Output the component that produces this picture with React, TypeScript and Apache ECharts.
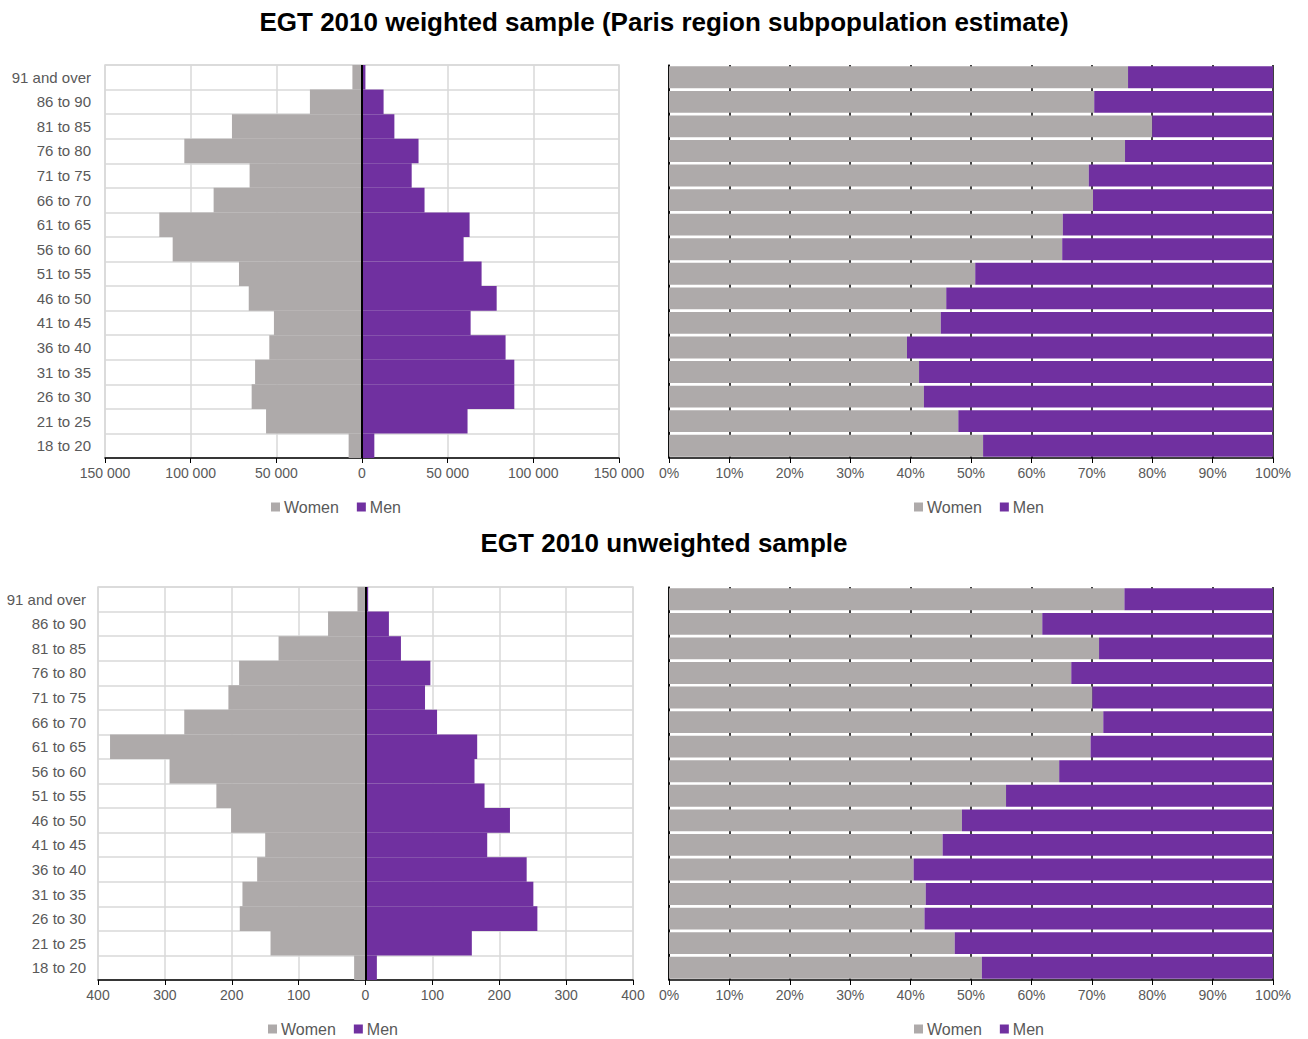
import React, { useEffect, useRef } from "react";
import * as echarts from "echarts";

const ageGroups = [
  "18 to 20", "21 to 25", "26 to 30", "31 to 35", "36 to 40", "41 to 45",
  "46 to 50", "51 to 55", "56 to 60", "61 to 65", "66 to 70", "71 to 75",
  "76 to 80", "81 to 85", "86 to 90", "91 and over",
];

// Weighted sample (estimated population)
const weightedWomen = [7800, 56000, 64400, 62400, 54100, 51400, 66100, 71800, 110500, 118300, 86600, 65600, 103700, 75900, 30400, 5600];
const weightedMen = [7200, 61600, 88900, 88900, 83800, 63400, 78600, 69800, 59300, 62800, 36500, 29000, 33000, 18900, 12600, 2000];
const weightedWomenShare = [52.0, 47.9, 42.2, 41.4, 39.4, 45.0, 45.9, 50.7, 65.1, 65.2, 70.2, 69.5, 75.5, 80.0, 70.4, 76.0];
const weightedMenShare = [48.0, 52.1, 57.8, 58.6, 60.6, 55.0, 54.1, 49.3, 34.9, 34.8, 29.8, 30.5, 24.5, 20.0, 29.6, 24.0];

// Unweighted sample (respondents)
const sampleWomen = [17, 142, 188, 184, 162, 150, 201, 223, 293, 382, 271, 205, 189, 130, 56, 12];
const sampleMen = [17, 159, 257, 251, 241, 182, 216, 178, 163, 167, 107, 89, 97, 53, 35, 4];
const sampleWomenShare = [51.8, 47.3, 42.3, 42.5, 40.5, 45.3, 48.5, 55.8, 64.6, 69.8, 71.9, 70.1, 66.6, 71.2, 61.8, 75.4];
const sampleMenShare = [48.2, 52.7, 57.7, 57.5, 59.5, 54.7, 51.5, 44.2, 35.4, 30.2, 28.1, 29.9, 33.4, 28.8, 38.2, 24.6];

const seriesNames = ["Women", "Men"];
const titles = ["EGT 2010 weighted sample (Paris region subpopulation estimate)", "EGT 2010 unweighted sample"];

const GREY = "#AEAAAA";
const PURPLE = "#7030A0";
const LABEL = "#595959";
const GRIDLINE = "#D9D9D9";
const FONT = "Liberation Sans, Arial, sans-serif";

const fmtAbs = (v: number) => String(Math.abs(v)).replace(/\B(?=(\d{3})+(?!\d))/g, " ");

function pyramidX(gridIndex: number, max: number, interval: number) {
  return {
    type: "value", gridIndex, min: -max, max, interval,
    axisLine: { show: true, onZero: false, lineStyle: { color: "#000", width: 1.5 } },
    axisTick: { show: true, length: 5, lineStyle: { color: "#000" } },
    axisLabel: { color: LABEL, fontSize: 14, fontFamily: FONT, margin: 8, formatter: fmtAbs },
    splitLine: { show: true, lineStyle: { color: GRIDLINE, width: 1.5 } },
  };
}
function pyramidY(gridIndex: number, margin: number) {
  return {
    type: "category", gridIndex, data: ageGroups,
    axisLine: { show: false }, axisTick: { show: false },
    axisLabel: { color: LABEL, fontSize: 15, fontFamily: FONT, margin, interval: 0 },
    splitLine: { show: true, interval: 0, lineStyle: { color: GRIDLINE, width: 1.5 } },
  };
}
function shareX(gridIndex: number) {
  return {
    type: "value", gridIndex, min: 0, max: 100, interval: 10,
    axisLine: { show: true, onZero: false, lineStyle: { color: "#000", width: 1.5 } },
    axisTick: { show: true, length: 5, lineStyle: { color: "#000" } },
    axisLabel: { color: LABEL, fontSize: 14, fontFamily: FONT, margin: 8, formatter: "{value}%" },
    splitLine: { show: true, lineStyle: { color: "#000", width: 1.5 } },
  };
}
function shareY(gridIndex: number) {
  return {
    type: "category", gridIndex, data: ageGroups,
    axisLine: { show: true, lineStyle: { color: "#000", width: 1.5 } },
    axisTick: { show: false }, axisLabel: { show: false }, splitLine: { show: false },
  };
}
function pyramidSeries(idx: number, women: number[], men: number[]) {
  return [
    {
      type: "bar", name: seriesNames[0], xAxisIndex: idx, yAxisIndex: idx, stack: "p" + idx,
      data: women.map((v) => -v), barCategoryGap: "0%", itemStyle: { color: GREY },
    },
    {
      type: "bar", name: seriesNames[1], xAxisIndex: idx, yAxisIndex: idx, stack: "p" + idx,
      data: men, barCategoryGap: "0%", itemStyle: { color: PURPLE },
      markLine: {
        silent: true, symbol: "none", label: { show: false },
        lineStyle: { color: "#000", width: 2, type: "solid" },
        data: [{ xAxis: 0 }],
      },
    },
  ];
}
function shareSeries(idx: number, women: number[], men: number[]) {
  return [
    {
      type: "bar", name: seriesNames[0], xAxisIndex: idx, yAxisIndex: idx, stack: "s" + idx,
      data: women, barCategoryGap: "11%", itemStyle: { color: GREY },
    },
    {
      type: "bar", name: seriesNames[1], xAxisIndex: idx, yAxisIndex: idx, stack: "s" + idx,
      data: men, barCategoryGap: "11%", itemStyle: { color: PURPLE },
    },
  ];
}
function legend(left: number, top: number) {
  return {
    data: seriesNames, left, top, icon: "rect", itemWidth: 9, itemHeight: 9, itemGap: 18,
    selectedMode: false, padding: 0,
    textStyle: { color: LABEL, fontSize: 16, fontFamily: FONT, padding: [0, 0, 0, -1] },
  };
}

export default function App() {
  const ref = useRef<HTMLDivElement>(null);
  useEffect(() => {
    if (!ref.current) return;
    const chart = echarts.init(ref.current, undefined, { renderer: "svg" });
    chart.setOption({
      animation: false,
      backgroundColor: "#fff",
      graphic: [
        { type: "text", x: 664, y: 22, style: { text: titles[0], font: `bold 26px ${FONT}`, fill: "#000", align: "center", verticalAlign: "middle" } },
        { type: "text", x: 664, y: 543, style: { text: titles[1], font: `bold 26px ${FONT}`, fill: "#000", align: "center", verticalAlign: "middle" } },
      ],
      grid: [
        { left: 105, top: 65, width: 514, height: 393, show: true, borderColor: GRIDLINE, borderWidth: 1.5, backgroundColor: "#fff" },
        { left: 669, top: 65, width: 604, height: 393 },
        { left: 98, top: 587, width: 535, height: 393, show: true, borderColor: GRIDLINE, borderWidth: 1.5, backgroundColor: "#fff" },
        { left: 669, top: 587, width: 604, height: 393 },
      ],
      xAxis: [pyramidX(0, 150000, 50000), shareX(1), pyramidX(2, 400, 100), shareX(3)],
      yAxis: [pyramidY(0, 14), shareY(1), pyramidY(2, 12), shareY(3)],
      legend: [legend(271, 499), legend(914, 499), legend(268, 1021), legend(914, 1021)],
      series: [
        ...pyramidSeries(0, weightedWomen, weightedMen),
        ...shareSeries(1, weightedWomenShare, weightedMenShare),
        ...pyramidSeries(2, sampleWomen, sampleMen),
        ...shareSeries(3, sampleWomenShare, sampleMenShare),
      ],
    });
    return () => chart.dispose();
  }, []);
  return <div ref={ref} style={{ position: "fixed", left: 0, top: 0, width: 1308, height: 1039 }} />;
}
